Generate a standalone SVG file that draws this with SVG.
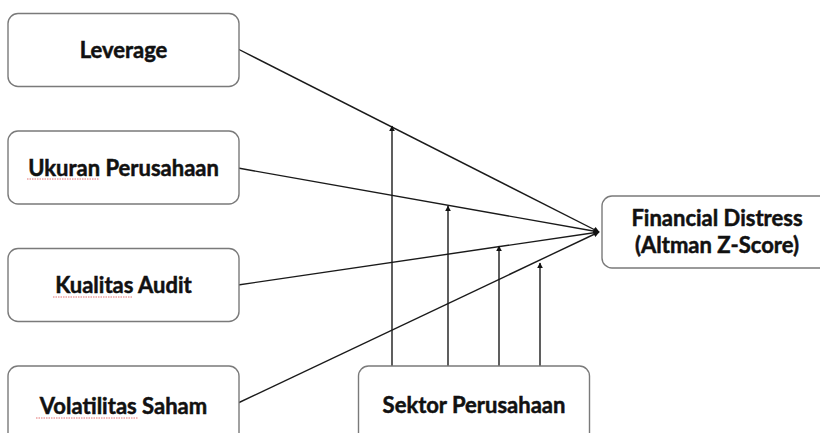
<svg xmlns="http://www.w3.org/2000/svg" width="820" height="433" viewBox="0 0 820 433">
<style>
.box{fill:#fff;stroke:#7a7a7a;stroke-width:1.4}
.t{font-family:Lato,"Open Sans",sans-serif;font-weight:bold;font-size:22px;fill:#111;stroke:#111;stroke-width:0.5;text-anchor:middle}
.ln{stroke:#1a1a1a;stroke-width:1.4;fill:none}
.sp{stroke:#e06060;stroke-width:0.9;fill:none;stroke-dasharray:1.5 1}
</style>
<defs>
<marker id="ah" viewBox="0 0 10 10" refX="9" refY="5" markerWidth="6" markerHeight="6" markerUnits="userSpaceOnUse" orient="auto">
<path d="M0,0 L10,5 L0,10 z" fill="#111"/>
</marker>
</defs>
<g id="connectors">
<line class="ln" x1="238" y1="49" x2="599" y2="232" marker-end="url(#ah)"/>
<line class="ln" x1="238" y1="168" x2="599" y2="232" marker-end="url(#ah)"/>
<line class="ln" x1="238" y1="285" x2="599" y2="232" marker-end="url(#ah)"/>
<line class="ln" x1="238" y1="403" x2="599" y2="232" marker-end="url(#ah)"/>
<line class="ln" x1="392" y1="366" x2="392" y2="126" marker-end="url(#ah)"/>
<line class="ln" x1="448" y1="366" x2="448" y2="206" marker-end="url(#ah)"/>
<line class="ln" x1="499" y1="366" x2="499" y2="246" marker-end="url(#ah)"/>
<line class="ln" x1="540" y1="366" x2="540" y2="263" marker-end="url(#ah)"/>
</g>
<g id="leverage">
<rect class="box" x="8" y="13.5" width="231" height="73" rx="10"/>
<text class="t" x="123.5" y="58">Leverage</text>
</g>
<g id="ukuran">
<rect class="box" x="8" y="131" width="231" height="73" rx="10"/>
<text class="t" x="123.5" y="176">Ukuran Perusahaan</text>
<path class="sp" d="M27,179 L99,179"/>
</g>
<g id="kualitas">
<rect class="box" x="8" y="248.5" width="231" height="73" rx="10"/>
<text class="t" x="123.5" y="293">Kualitas Audit</text>
<path class="sp" d="M53,297 L132,297"/>
</g>
<g id="volatilitas">
<rect class="box" x="8" y="366" width="231" height="80" rx="10"/>
<text class="t" x="123.5" y="414">Volatilitas Saham</text>
<path class="sp" d="M36,418 L138,418"/>
</g>
<g id="sektor">
<rect class="box" x="358.5" y="366" width="231" height="80" rx="10"/>
<text class="t" x="474" y="413">Sektor Perusahaan</text>
</g>
<g id="financial">
<rect class="box" x="602" y="196" width="240" height="72" rx="10"/>
<text class="t" x="717" y="226">Financial Distress</text>
<text class="t" x="717" y="253">(Altman Z-Score)</text>
</g>
</svg>
